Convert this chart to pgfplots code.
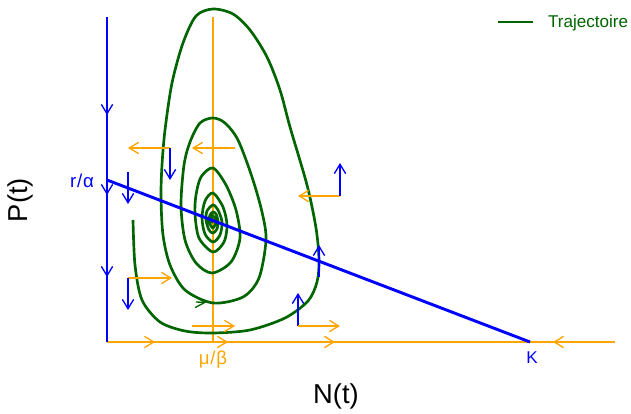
\documentclass[border=0pt]{standalone}
\usepackage{fontspec}
\setmainfont{Liberation Sans}
\usepackage{pgfplots}
\pgfplotsset{compat=1.18}
\usetikzlibrary{arrows.meta}

\definecolor{nullN}{RGB}{0,0,255}
\definecolor{nullP}{RGB}{255,165,0}
\definecolor{traj}{RGB}{0,100,0}

\tikzset{
  fld/.style={line width=1pt, -{Straight Barb[length=7pt,width=8.5pt]}},
}

\begin{document}
\begin{tikzpicture}
\begin{axis}[
  width=473.25pt, height=309.75pt, scale only axis,
  xmin=0, xmax=631, ymin=0, ymax=413, y dir=reverse,
  hide axis, clip=false,
  legend style={at={(axis cs:631,12)}, anchor=north east, draw=none, fill=none,
    inner sep=0pt, font=\fontsize{12.8}{14}\selectfont, text=traj},
]
% frame of the phase plane (invisible)
\addplot[draw=none, forget plot] coordinates {(0,0) (631,413)};

% dP/dt = 0 : N = mu/beta, and dN/dt = 0 on P = 0
\addplot[nullP, line width=2.1pt, forget plot] coordinates {(213,17) (213,342)};
\addplot[nullP, line width=1.3pt, forget plot] coordinates {(107,342) (615,342)};

% legend key for the trajectory
\addlegendimage{legend image code/.code={\draw[traj, line width=2pt] (-14pt,0pt) -- (12.75pt,0pt);}}
\addlegendentry{\hspace{8pt}Trajectoire}

% trajectory spiralling into the coexistence equilibrium
\addplot[traj, line width=2pt, smooth, forget plot] coordinates {
(133,220) (135,265) (142,300) (160,322) (185,331) (213,333) (250,330)
(285,318) (308,301) (317,282) (319,260) (316,228) (307,185) (290,127)
(280,90) (267,57) (250,30) (233,14) (213,9) (196,16) (183,43) (172,83)
(165,130) (162,165) (161,197)
(163,235) (170,265) (185,290) (213,303) (243,297) (259,278) (266,240)
(262,212) (252,177) (238,140) (225,123) (213,118) (200,123) (190,142)
(184,165) (181,205)
(185,240) (196,263) (212,273) (231,262) (240,238) (236,210) (226,185)
(213,168) (201,177) (196,195) (195,214)
(199,238) (213,252) (224,242) (227,225) (223,207) (213,193) (205,201)
(202,218)
(205,234) (213,242) (220,235) (222,222) (218,210) (213,205) (207,211)
(206,220)
(209,230) (213,233) (217,229) (218,221) (216,214) (213,212) (210,215)
(209,221)
(211,226) (213,228) (215,225) (216,220) (214,217) (213,216) (211,219)
(212,222) (213,222)
};
\addplot[traj, fld, forget plot] coordinates {(196,302) (206,302.5)};

% dN/dt = 0 : N = 0 and P = (r/alpha)(1 - N/K)
\addplot[nullN, line width=1.1pt, forget plot] coordinates {(107,17) (107,342)};
\addplot[nullN, line width=2.2pt, forget plot] coordinates {(107,180) (530,342)};

% flow along the axes
\addplot[nullN, fld, forget plot] coordinates {(107,83) (107,115)};
\addplot[nullN, fld, forget plot] coordinates {(107,163) (107,195)};
\addplot[nullN, fld, forget plot] coordinates {(107,245) (107,277)};
\addplot[nullP, fld, forget plot] coordinates {(123,342) (155,342)};
\addplot[nullP, fld, forget plot] coordinates {(196,342) (228,342)};
\addplot[nullP, fld, forget plot] coordinates {(303,342) (335,342)};
\addplot[nullP, fld, forget plot] coordinates {(595,342) (553,342)};

% direction of the flow in each region
\addplot[nullP, fld, forget plot] coordinates {(170,148) (128,148)};
\addplot[nullN, fld, forget plot] coordinates {(170,148) (170,180)};
\addplot[nullP, fld, forget plot] coordinates {(235,148) (192,148)};
\addplot[nullP, fld, forget plot] coordinates {(340,196) (298,196)};
\addplot[nullN, fld, forget plot] coordinates {(340,196) (340,163)};
\addplot[nullN, fld, forget plot] coordinates {(128,172) (128,204)};
\addplot[nullP, fld, forget plot] coordinates {(128,278) (172,278)};
\addplot[nullN, fld, forget plot] coordinates {(128,278) (128,310)};
\addplot[nullP, fld, forget plot] coordinates {(192,326) (235,326)};
\addplot[nullN, fld, forget plot] coordinates {(298,326) (298,293)};
\addplot[nullP, fld, forget plot] coordinates {(298,326) (340,326)};
\addplot[nullN, fld, forget plot] coordinates {(319,277) (319,245)};

% labels
\node[text=nullN, font=\fontsize{14}{16}\selectfont] at (axis cs:82,181) {r\kern0.6pt/\kern0.6ptα};
\node[text=nullP, font=\fontsize{14}{16}\selectfont] at (axis cs:213,360) {μ\kern0.6pt/\kern0.6ptβ};
\node[text=nullN, font=\fontsize{12.8}{14}\selectfont] at (axis cs:532,358) {K};
\node[font=\fontsize{20.5}{22}\selectfont] at (axis cs:336,396) {N(t)};
\node[rotate=90, font=\fontsize{20.5}{22}\selectfont] at (axis cs:20,200) {P(t)};
\end{axis}
\end{tikzpicture}
\end{document}
